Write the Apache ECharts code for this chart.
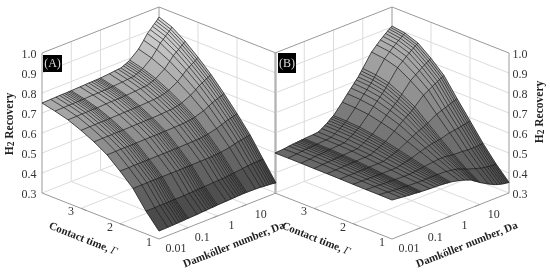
<!DOCTYPE html>
<html>
<head>
<meta charset="utf-8">
<style>html,body{margin:0;padding:0;background:#fff}#c{width:550px;height:272px;filter:blur(0.35px)}</style>
<script src="https://cdn.jsdelivr.net/npm/echarts@6/dist/echarts.min.js"></script>
</head>
<body>
<div id="c"></div>
<script>
// Damkoehler columns of the mesh
const daValues = [0.01,0.02,0.03,0.04,0.05,0.06,0.07,0.08,0.09,0.1,0.2,0.3,0.4,0.5,0.6,0.7,0.8,0.9,1,2,3,4,5,6,7,8,9,10,20,30,40,50,60,70,80,90,100];
// Contact-time rows of the mesh
const gammaValues = [1,1.333,1.667,2,2.333,2.667,3,3.333,3.667,4];
const daTicks = ['0.01','0.1','1','10'];
const gammaTicks = ['1','2','3'];
const recoveryTicks = ['0.3','0.4','0.5','0.6','0.7','0.8','0.9','1.0'];

// H2 recovery, one row per contact time, panel A
const recoveryA0 = [.340,.341,.342,.343,.344,.344,.345,.345,.346,.346,.348,.350,.351,.352,.353,.353,.354,.354,.355,.357,.358,.359,.360,.360,.361,.361,.361,.361,.360,.359,.357,.356,.355,.354,.353,.352,.350];
const recoveryA1 = [.414,.414,.415,.415,.415,.415,.415,.416,.416,.416,.417,.418,.419,.420,.420,.421,.421,.421,.422,.424,.425,.426,.427,.428,.429,.430,.431,.432,.437,.440,.442,.443,.444,.444,.444,.444,.444];
const recoveryA2 = [.502,.502,.502,.503,.503,.503,.503,.503,.503,.503,.503,.503,.503,.504,.504,.504,.504,.504,.504,.505,.505,.506,.506,.507,.508,.508,.509,.510,.517,.524,.529,.531,.534,.535,.537,.538,.540];
const recoveryA3 = [.563,.563,.564,.564,.564,.564,.564,.564,.564,.564,.565,.565,.565,.565,.565,.566,.566,.566,.566,.567,.568,.568,.569,.570,.572,.573,.574,.575,.586,.595,.603,.607,.610,.613,.615,.618,.620];
const recoveryA4 = [.619,.619,.620,.620,.620,.620,.620,.620,.620,.621,.621,.622,.622,.622,.622,.622,.623,.623,.623,.624,.625,.626,.627,.629,.630,.632,.633,.635,.649,.662,.672,.678,.682,.686,.689,.692,.695];
const recoveryA5 = [.658,.659,.659,.659,.660,.660,.660,.660,.660,.660,.661,.662,.662,.662,.663,.663,.663,.663,.663,.665,.667,.668,.669,.672,.674,.676,.678,.680,.701,.719,.733,.740,.747,.752,.756,.761,.765];
const recoveryA6 = [.690,.691,.691,.692,.692,.692,.692,.692,.693,.693,.694,.695,.695,.696,.696,.696,.696,.697,.697,.699,.701,.703,.704,.708,.710,.713,.716,.718,.744,.767,.785,.794,.802,.809,.814,.820,.825];
const recoveryA7 = [.717,.718,.719,.719,.719,.720,.720,.720,.720,.720,.722,.723,.723,.724,.724,.724,.725,.725,.725,.728,.731,.732,.733,.738,.741,.745,.748,.751,.782,.810,.831,.843,.852,.860,.867,.873,.880];
const recoveryA8 = [.735,.736,.737,.737,.738,.738,.738,.738,.739,.739,.741,.741,.742,.743,.743,.744,.744,.744,.745,.748,.751,.753,.754,.760,.764,.767,.771,.775,.811,.843,.868,.881,.893,.902,.910,.917,.925];
const recoveryA9 = [.750,.751,.752,.753,.753,.753,.753,.754,.754,.754,.756,.757,.758,.758,.759,.759,.759,.760,.760,.764,.767,.769,.770,.776,.780,.784,.788,.792,.830,.864,.890,.904,.916,.926,.934,.942,.950];

// H2 recovery, one row per contact time, panel B
const recoveryB0 = [.495,.490,.487,.485,.484,.483,.482,.481,.480,.480,.477,.476,.475,.474,.473,.472,.471,.470,.470,.460,.452,.445,.440,.432,.425,.420,.415,.410,.385,.372,.365,.361,.358,.356,.355,.354,.353];
const recoveryB1 = [.496,.492,.489,.488,.487,.486,.486,.485,.484,.484,.482,.481,.482,.482,.482,.482,.482,.482,.482,.480,.476,.473,.470,.465,.460,.458,.454,.451,.437,.429,.425,.423,.421,.420,.420,.420,.420];
const recoveryB2 = [.496,.494,.492,.491,.491,.490,.490,.489,.489,.489,.487,.487,.489,.491,.492,.494,.495,.496,.497,.502,.505,.505,.506,.504,.501,.501,.500,.499,.497,.494,.494,.494,.494,.495,.496,.496,.497];
const recoveryB3 = [.497,.496,.495,.495,.495,.495,.495,.494,.494,.494,.494,.494,.498,.502,.504,.507,.509,.511,.513,.528,.536,.541,.545,.547,.547,.550,.551,.552,.565,.568,.571,.574,.576,.578,.581,.582,.584];
const recoveryB4 = [.498,.498,.498,.499,.499,.499,.499,.499,.499,.500,.500,.501,.507,.512,.515,.520,.523,.526,.529,.553,.568,.577,.585,.589,.593,.598,.602,.605,.632,.641,.648,.653,.658,.661,.665,.667,.670];
const recoveryB5 = [.499,.500,.502,.503,.503,.504,.504,.505,.504,.505,.506,.508,.516,.523,.528,.533,.538,.542,.545,.579,.601,.615,.626,.634,.640,.648,.655,.661,.702,.717,.728,.736,.743,.748,.753,.756,.760];
const recoveryB6 = [.499,.502,.504,.505,.506,.507,.507,.508,.508,.509,.511,.513,.522,.530,.536,.542,.548,.553,.556,.597,.623,.640,.653,.664,.672,.682,.690,.698,.749,.768,.782,.792,.800,.806,.812,.816,.820];
const recoveryB7 = [.500,.503,.506,.508,.508,.509,.510,.511,.511,.512,.515,.517,.527,.536,.542,.550,.556,.562,.566,.612,.641,.661,.676,.689,.699,.711,.720,.729,.788,.811,.827,.838,.848,.855,.862,.866,.871];
const recoveryB8 = [.500,.504,.507,.509,.510,.510,.511,.512,.512,.513,.516,.519,.529,.539,.546,.554,.560,.566,.570,.619,.650,.671,.687,.701,.712,.724,.734,.744,.807,.832,.849,.861,.871,.878,.885,.890,.895];
const recoveryB9 = [.500,.503,.507,.509,.510,.511,.512,.513,.513,.514,.517,.520,.530,.540,.547,.555,.562,.568,.572,.622,.654,.675,.692,.706,.717,.730,.740,.750,.815,.840,.858,.870,.880,.888,.895,.900,.905];

const rowsA = [recoveryA0,recoveryA1,recoveryA2,recoveryA3,recoveryA4,recoveryA5,recoveryA6,recoveryA7,recoveryA8,recoveryA9];
const rowsB = [recoveryB0,recoveryB1,recoveryB2,recoveryB3,recoveryB4,recoveryB5,recoveryB6,recoveryB7,recoveryB8,recoveryB9];

// orthographic projection of the box
const HALF_W = 117, SKEW = 46, Z_PX = 200, FRONT_Y = 239;
const Z_MIN = 0.3, Z_MAX = 1.0, G_MIN = 1, G_MAX = 4, LDA_MIN = -2, LDA_MAX = 2;
function project(fx, da, g, z) {
  const u = (Math.log10(da) - LDA_MIN) / (LDA_MAX - LDA_MIN);
  const v = (g - G_MIN) / (G_MAX - G_MIN);
  return [fx + HALF_W * (u - v), FRONT_Y - SKEW * (u + v) - (z - Z_MIN) * Z_PX];
}
const DA_MAX = Math.pow(10, LDA_MAX), DA_MIN = Math.pow(10, LDA_MIN);

const panels = [
  {fx: 159, rows: rowsA, lo: 66, slope: 255},
  {fx: 392, rows: rowsB, lo: 72, slope: 200}
];

const GRID = '#dcdcdc', EDGE = '#9a9a9a';
function wallSeries(p) {
  const segs = [];
  const fx = p.fx;
  const seg = (a, b, color, w) => segs.push([a, b, color, w]);
  recoveryTicks.forEach((t, idx) => {
    const z = +t;
    if (idx > 0 && idx < recoveryTicks.length - 1) {
      seg(project(fx, DA_MIN, G_MAX, z), project(fx, DA_MAX, G_MAX, z), GRID, 1);
      seg(project(fx, DA_MAX, G_MAX, z), project(fx, DA_MAX, G_MIN, z), GRID, 1);
    }
  });
  daTicks.forEach(t => {
    const d = +t;
    if (d === DA_MIN) return;
    seg(project(fx, d, G_MIN, Z_MIN), project(fx, d, G_MAX, Z_MIN), GRID, 1);
    seg(project(fx, d, G_MAX, Z_MIN), project(fx, d, G_MAX, Z_MAX), GRID, 1);
    const a = project(fx, d, G_MIN, Z_MIN);
    seg(a, [a[0] - 5, a[1] + 2], '#8a8a8a', 0.8);
  });
  gammaTicks.forEach(t => {
    const g = +t;
    if (g === G_MIN) return;
    seg(project(fx, DA_MIN, g, Z_MIN), project(fx, DA_MAX, g, Z_MIN), GRID, 1);
    seg(project(fx, DA_MAX, g, Z_MIN), project(fx, DA_MAX, g, Z_MAX), GRID, 1);
    const a = project(fx, DA_MIN, g, Z_MIN);
    seg(a, [a[0] + 5, a[1] + 2], '#8a8a8a', 0.8);
  });
  const c = (d, g, z) => project(fx, d, g, z);
  seg(c(DA_MIN,G_MAX,Z_MIN), c(DA_MAX,G_MAX,Z_MIN), GRID, 1);
  seg(c(DA_MAX,G_MIN,Z_MIN), c(DA_MAX,G_MAX,Z_MIN), GRID, 1);
  seg(c(DA_MAX,G_MAX,Z_MIN), c(DA_MAX,G_MAX,Z_MAX), EDGE, 1);
  seg(c(DA_MIN,G_MAX,Z_MAX), c(DA_MAX,G_MAX,Z_MAX), EDGE, 1);
  seg(c(DA_MAX,G_MIN,Z_MAX), c(DA_MAX,G_MAX,Z_MAX), EDGE, 1);
  seg(c(DA_MIN,G_MAX,Z_MIN), c(DA_MIN,G_MAX,Z_MAX), EDGE, 1);
  seg(c(DA_MAX,G_MIN,Z_MIN), c(DA_MAX,G_MIN,Z_MAX), EDGE, 1);
  seg(c(DA_MIN,G_MIN,Z_MIN), c(DA_MIN,G_MAX,Z_MIN), EDGE, 1);
  seg(c(DA_MIN,G_MIN,Z_MIN), c(DA_MAX,G_MIN,Z_MIN), EDGE, 1);
  return {
    type: 'custom', coordinateSystem: 'none', silent: true, animation: false, z: 1,
    data: segs.map((s, i) => [i]),
    renderItem: (params) => {
      const s = segs[params.dataIndex];
      return {type: 'line', shape: {x1: s[0][0], y1: s[0][1], x2: s[1][0], y2: s[1][1]},
        style: {stroke: s[2], lineWidth: s[3]}};
    }
  };
}

function surfaceSeries(p) {
  const data = [];
  for (let r = gammaValues.length - 2; r >= 0; r--) {
    for (let c = daValues.length - 2; c >= 0; c--) {
      data.push([r, c]);
    }
  }
  return {
    type: 'custom', coordinateSystem: 'none', silent: true, animation: false, z: 2,
    data: data,
    renderItem: (params, api) => {
      const r = api.value(0), c = api.value(1);
      const pt = (rr, cc) => project(p.fx, daValues[cc], gammaValues[rr], p.rows[rr][cc]);
      const a = pt(r, c), b = pt(r, c + 1), d = pt(r + 1, c + 1), e = pt(r + 1, c);
      const zAvg = (p.rows[r][c] + p.rows[r][c + 1] + p.rows[r + 1][c] + p.rows[r + 1][c + 1]) / 4;
      const g = Math.round(Math.max(40, Math.min(225, p.lo + (zAvg - 0.34) * p.slope)));
      const fill = 'rgb(' + g + ',' + g + ',' + g + ')';
      return {type: 'polygon', shape: {points: [a, b, d, e]}, style: {fill: fill, stroke: fill, lineWidth: 0.5}};
    }
  };
}

// mesh lines are drawn over the finished surface
function meshSeries(p) {
  const data = [];
  gammaValues.forEach((g, r) => data.push([0, r]));
  daValues.forEach((d, c) => data.push([1, c]));
  return {
    type: 'custom', coordinateSystem: 'none', silent: true, animation: false, z: 3,
    data: data,
    renderItem: (params, api) => {
      const kind = api.value(0), k = api.value(1);
      const pts = kind === 0
        ? daValues.map((d, c) => project(p.fx, d, gammaValues[k], p.rows[k][c]))
        : gammaValues.map((g, r) => project(p.fx, daValues[k], g, p.rows[r][k]));
      return {type: 'polyline', shape: {points: pts},
        style: kind === 0
          ? {fill: null, stroke: 'rgba(20,20,20,0.8)', lineWidth: 0.85}
          : {fill: null, stroke: 'rgba(20,20,20,0.85)', lineWidth: 0.8}};
    }
  };
}

const SERIF = '"Liberation Serif","Times New Roman",serif';
const TICK_COLOR = '#333';
function txt(x, y, text, font, opts) {
  return Object.assign({
    type: 'text', x: x, y: y, z: 50, silent: true,
    style: Object.assign({text: text, font: font, fill: TICK_COLOR, align: 'center', verticalAlign: 'middle'}, (opts && opts.style) || {})
  }, opts && opts.rotation !== undefined ? {rotation: opts.rotation} : {});
}
const TICK_FONT = '12px ' + SERIF, BOLD_FONT = 'bold 11px ' + SERIF;
const ROT = 21.5 * Math.PI / 180;
const graphics = [];

const titleRich = {
  n: {font: 'bold 11.5px ' + SERIF, fill: '#222'},
  s: {font: 'bold 9.5px ' + SERIF, fill: '#222', verticalAlign: 'bottom', padding: [4, 0, 0, 0]},
  c: {font: BOLD_FONT, fill: '#222'},
  i: {font: 'italic 11px ' + SERIF, fill: '#222'}
};

panels.forEach((p, idx) => {
  const zx = idx === 0 ? 29 : 520;
  recoveryTicks.forEach(t => {
    const y = project(p.fx, DA_MIN, G_MAX, +t)[1] + 2;
    graphics.push(txt(zx, y, t, TICK_FONT));
  });
  daTicks.forEach(t => {
    const a = project(p.fx, +t, G_MIN, Z_MIN);
    graphics.push(txt(a[0] + 17 - (t === '0.01' ? 0 : 3) , a[1] + 10, t, TICK_FONT));
  });
  gammaTicks.forEach(t => {
    const a = project(p.fx, DA_MIN, +t, Z_MIN);
    graphics.push(txt(a[0] - 10, a[1] + 4, t, TICK_FONT));
  });
  graphics.push(txt(p.fx - 76, 239, '{c|Contact time, }{i|Γ}', BOLD_FONT, {rotation: -ROT, style: {rich: titleRich}}));
  graphics.push(txt(p.fx + 75, 245, 'Damköller number, Da', BOLD_FONT, {rotation: ROT, style: {fill: '#222'}}));
});
graphics.push(txt(10, 124, '{n|H}{s|2}{n| Recovery}', BOLD_FONT, {rotation: Math.PI / 2, style: {rich: titleRich}}));
graphics.push(txt(540, 112, '{n|H}{s|2}{n| Recovery}', BOLD_FONT, {rotation: Math.PI / 2, style: {rich: titleRich}}));

graphics.push({type: 'rect', z: 49, silent: true, shape: {x: 43, y: 55, width: 19, height: 17}, style: {fill: '#000'}});
graphics.push({type: 'rect', z: 49, silent: true, shape: {x: 278, y: 53, width: 18, height: 20}, style: {fill: '#000'}});
graphics.push(txt(52.5, 63.5, '(A)', TICK_FONT, {style: {fill: '#ddd'}}));
graphics.push(txt(287, 63.5, '(B)', TICK_FONT, {style: {fill: '#ddd'}}));

const chart = echarts.init(document.getElementById('c'), null, {renderer: 'canvas'});
chart.setOption({
  animation: false,
  backgroundColor: '#fff',
  graphic: {elements: graphics},
  series: panels.map(wallSeries).concat(panels.map(surfaceSeries)).concat(panels.map(meshSeries))
});
</script>
</body>
</html>
